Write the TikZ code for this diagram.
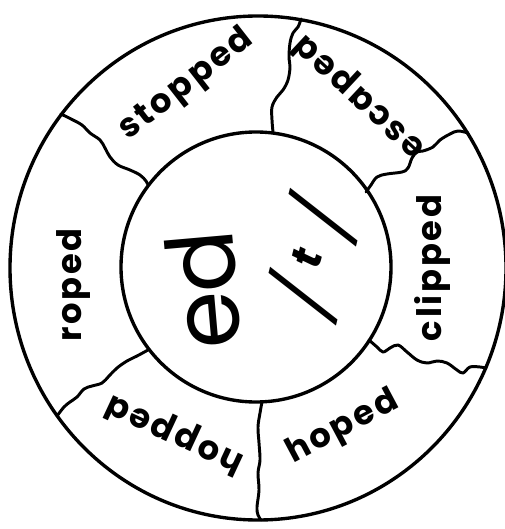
\documentclass[tikz,border=0pt]{standalone}
\usepackage{fontspec}
\setmainfont{Poppins}
\newcommand{\ringfont}{\fontsize{24}{24}\selectfont\bfseries\addfontfeatures{LetterSpace=8}}
\newcommand{\hubfont}{\fontsize{66}{66}\selectfont\addfontfeatures{LetterSpace=-2}}
\newcommand{\slashfont}{\fontsize{50}{50}\selectfont\addfontfeatures{FakeSlant=0.2}}

\begin{document}
\begin{tikzpicture}[
  x=0.25mm, y=-0.25mm,
  rim/.style={draw=black, line width=2.4pt},
  cut/.style={draw=black, line width=2.1pt, line join=round, line cap=round},
  word/.style={font=\ringfont, inner sep=0pt},
  hub/.style={inner sep=0pt}
]
\useasboundingbox (0,0) rectangle (504,529);

% ==== rims
\draw[rim] (258,268) ellipse [x radius=248, y radius=252];
\draw[rim] (256,267) circle [radius=135];

% ==== cuts between the cells
\draw[cut] plot[smooth, tension=0.6] coordinates {(301,19) (298,27) (293,33) (290,43)
  (289,57) (290,67) (288,80) (283,90) (277,97) (272,107) (272,120) (273,132)};
\draw[cut] plot[smooth, tension=0.6] coordinates {(61,114) (73,120) (82,125) (90,133)
  (100,140) (105,148) (110,157) (118,165) (130,170) (140,175) (146,181) (148,185)};
\draw[cut] plot[smooth, tension=0.6] coordinates {(468,133) (458,131) (450,134) (440,140)
  (433,147) (423,151) (417,152) (412,158) (408,168) (402,172) (387,174) (377,177)
  (371,185) (366,192)};
\draw[cut] plot[smooth, tension=0.6] coordinates {(369,340) (377,347) (383,352) (390,348)
  (398,345) (407,352) (417,360) (427,363) (437,361) (447,363) (457,370) (463,373)
  (470,367) (480,367) (486,368)};
\draw[cut] plot[smooth, tension=0.6] coordinates {(262,402) (260,413) (258,427) (259,443)
  (260,460) (258,473) (259,490) (257,507) (258,515) (261,520)};
\draw[cut] plot[smooth, tension=0.6] coordinates {(148,350) (137,356) (127,361) (117,368)
  (109,376) (102,383) (92,386) (84,389) (77,397) (70,402) (64,407) (57,416)};

% ==== words round the ring
\node[word, rotate=38]  (stopped) at (187,85)  {stopped};
\node[word, rotate=137] (escaped) at (360,96)  {escaped};
\node[word, rotate=90]  (clipped) at (432,268) {clipped};
\node[word, rotate=28]  (hoped)   at (343,428) {hoped};
\node[word, rotate=155] (hopped)  at (175,433) {hopped};
\node[word, rotate=90]  (roped)   at (74,285)  {roped};

% ==== hub
\node[hub, font=\hubfont, rotate=95] (ed) at (203,290) {ed};
\node[hub, font=\slashfont, rotate=76] (sound) at (312,262)
     {/\hspace{11pt}\raisebox{13pt}{\fontsize{30}{30}\selectfont\bfseries t}\hspace{11pt}/};

\end{tikzpicture}
\end{document}
